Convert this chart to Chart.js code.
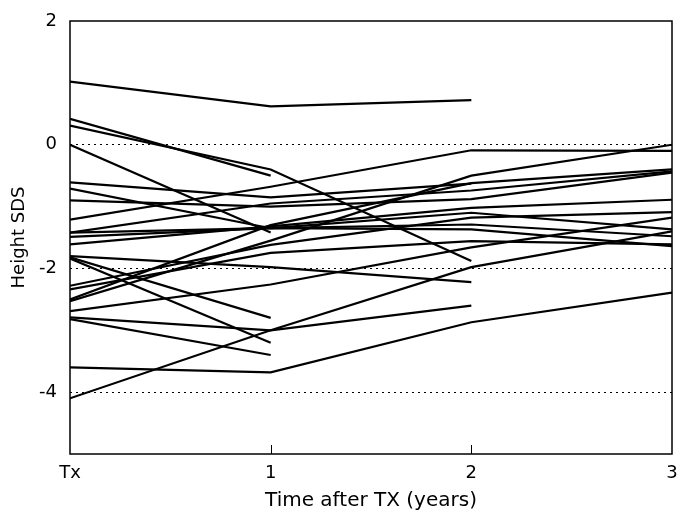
<!DOCTYPE html>
<html>
<head>
<meta charset="utf-8">
<script src="https://cdn.jsdelivr.net/npm/chart.js@4.4.0/dist/chart.umd.min.js"></script>
<style>
  html, body { margin: 0; padding: 0; background: #fff; }
  #chart { display: block; }
</style>
</head>
<body>
<canvas id="chart" width="679" height="516"></canvas>
<script>
// time points (years after transplantation, 0 = at Tx)
const years = [0, 1, 2, 3];
const xTickLabels = ["Tx", "1", "2", "3"];
const yTicks = [-4, -2, 0, 2];
const innerXTicks = [1, 2];

// height SDS per patient at Tx, 1, 2, 3 years (null = no value)
const p01 = [1.02, 0.62, 0.72, null];
const p02 = [0.42, -0.50, null, null];
const p03 = [0.31, -0.40, -1.88, null];
const p04 = [0.00, -1.42, null, null];
const p05 = [-0.61, -0.85, -0.63, null];
const p06 = [-0.71, -1.35, -1.29, -1.48];
const p07 = [-0.90, -1.00, -0.88, -0.45];
const p08 = [-1.21, -0.68, -0.09, -0.10];
const p09 = [-1.42, -0.95, -0.74, -0.43];
const p10 = [-1.49, -1.35, -1.37, -1.64];
const p11 = [-1.61, -1.32, -1.02, -0.89];
const p12 = [-1.80, -1.98, -2.22, null];
const p13 = [-1.82, -2.80, null, null];
const p14 = [-1.84, -3.20, null, null];
const p15 = [-2.28, -1.62, -1.18, -1.09];
const p16 = [-2.34, -1.75, -1.56, -1.61];
const p17 = [-2.50, -1.30, -0.62, -0.40];
const p18 = [-2.53, -1.55, -0.50, 0.00];
const p19 = [-2.69, -2.26, -1.66, -1.18];
const p20 = [-2.79, -3.00, -2.60, null];
const p21 = [-2.82, -3.40, null, null];
const p22 = [-3.60, -3.68, -2.87, -2.39];
const p23 = [-4.10, -3.00, -1.98, -1.40];
const p24 = [-1.42, -1.35, -1.10, -1.37];

const patients = [p01, p02, p03, p04, p05, p06, p07, p08, p09, p10, p11, p12,
                  p13, p14, p15, p16, p17, p18, p19, p20, p21, p22, p23, p24];

const datasets = patients.map(vals => ({
    data: years.map((yr, i) => ({ x: yr, y: vals[i] })),
    borderColor: '#000',
    borderWidth: 2.2,
    pointRadius: 0,
    fill: false,
    spanGaps: false,
    tension: 0
}));

// box round the plot area plus the small inward ticks at 1 and 2 years
const framePlugin = {
    id: 'frame',
    afterDraw(chart) {
        const { ctx, chartArea: a, scales: { x } } = chart;
        ctx.save();
        ctx.strokeStyle = '#000';
        ctx.lineWidth = 1.5;
        ctx.strokeRect(a.left, a.top, a.right - a.left, a.bottom - a.top);
        ctx.lineWidth = 1;
        innerXTicks.forEach(v => {
            const px = Math.round(x.getPixelForValue(v)) + 0.5;
            ctx.beginPath();
            ctx.moveTo(px, a.bottom);
            ctx.lineTo(px, a.bottom - 9);
            ctx.stroke();
        });
        ctx.restore();
    }
};

const font = 'DejaVu Sans';

new Chart(document.getElementById('chart'), {
    type: 'line',
    data: { datasets: datasets },
    plugins: [framePlugin],
    options: {
        responsive: false,
        animation: false,
        devicePixelRatio: 1,
        layout: { padding: { left: 0, right: 7, top: 21, bottom: 0 } },
        plugins: { legend: { display: false }, tooltip: { enabled: false } },
        scales: {
            x: {
                type: 'linear',
                min: 0,
                max: 3,
                afterBuildTicks: s => { s.ticks = years.map(v => ({ value: v })); },
                afterFit: s => { s.height = 62; s.paddingLeft = 0; s.paddingRight = 0; },
                grid: { display: false, drawTicks: false },
                border: { display: false },
                ticks: {
                    color: '#000',
                    padding: 9,
                    maxRotation: 0,
                    font: { family: font, size: 18 },
                    callback: (v) => xTickLabels[years.indexOf(v)]
                },
                title: {
                    display: true,
                    text: 'Time after TX (years)',
                    color: '#000',
                    font: { family: font, size: 20 },
                    padding: { top: 4, bottom: 3 }
                }
            },
            y: {
                type: 'linear',
                min: -5,
                max: 2,
                afterBuildTicks: s => { s.ticks = yTicks.map(v => ({ value: v })); },
                afterFit: s => { s.width = 70; s.paddingTop = 0; s.paddingBottom = 0; },
                grid: {
                    drawTicks: false,
                    lineWidth: 1,
                    color: c => (c.tick && c.tick.value === 2) ? 'rgba(0,0,0,0)' : '#000'
                },
                border: { display: false, dash: [2, 4] },
                ticks: {
                    color: '#000',
                    padding: 13,
                    font: { family: font, size: 18 }
                },
                title: {
                    display: true,
                    text: 'Height SDS',
                    color: '#000',
                    font: { family: font, size: 18 },
                    padding: { top: 9, bottom: 0 }
                }
            }
        }
    }
});
</script>
</body>
</html>
